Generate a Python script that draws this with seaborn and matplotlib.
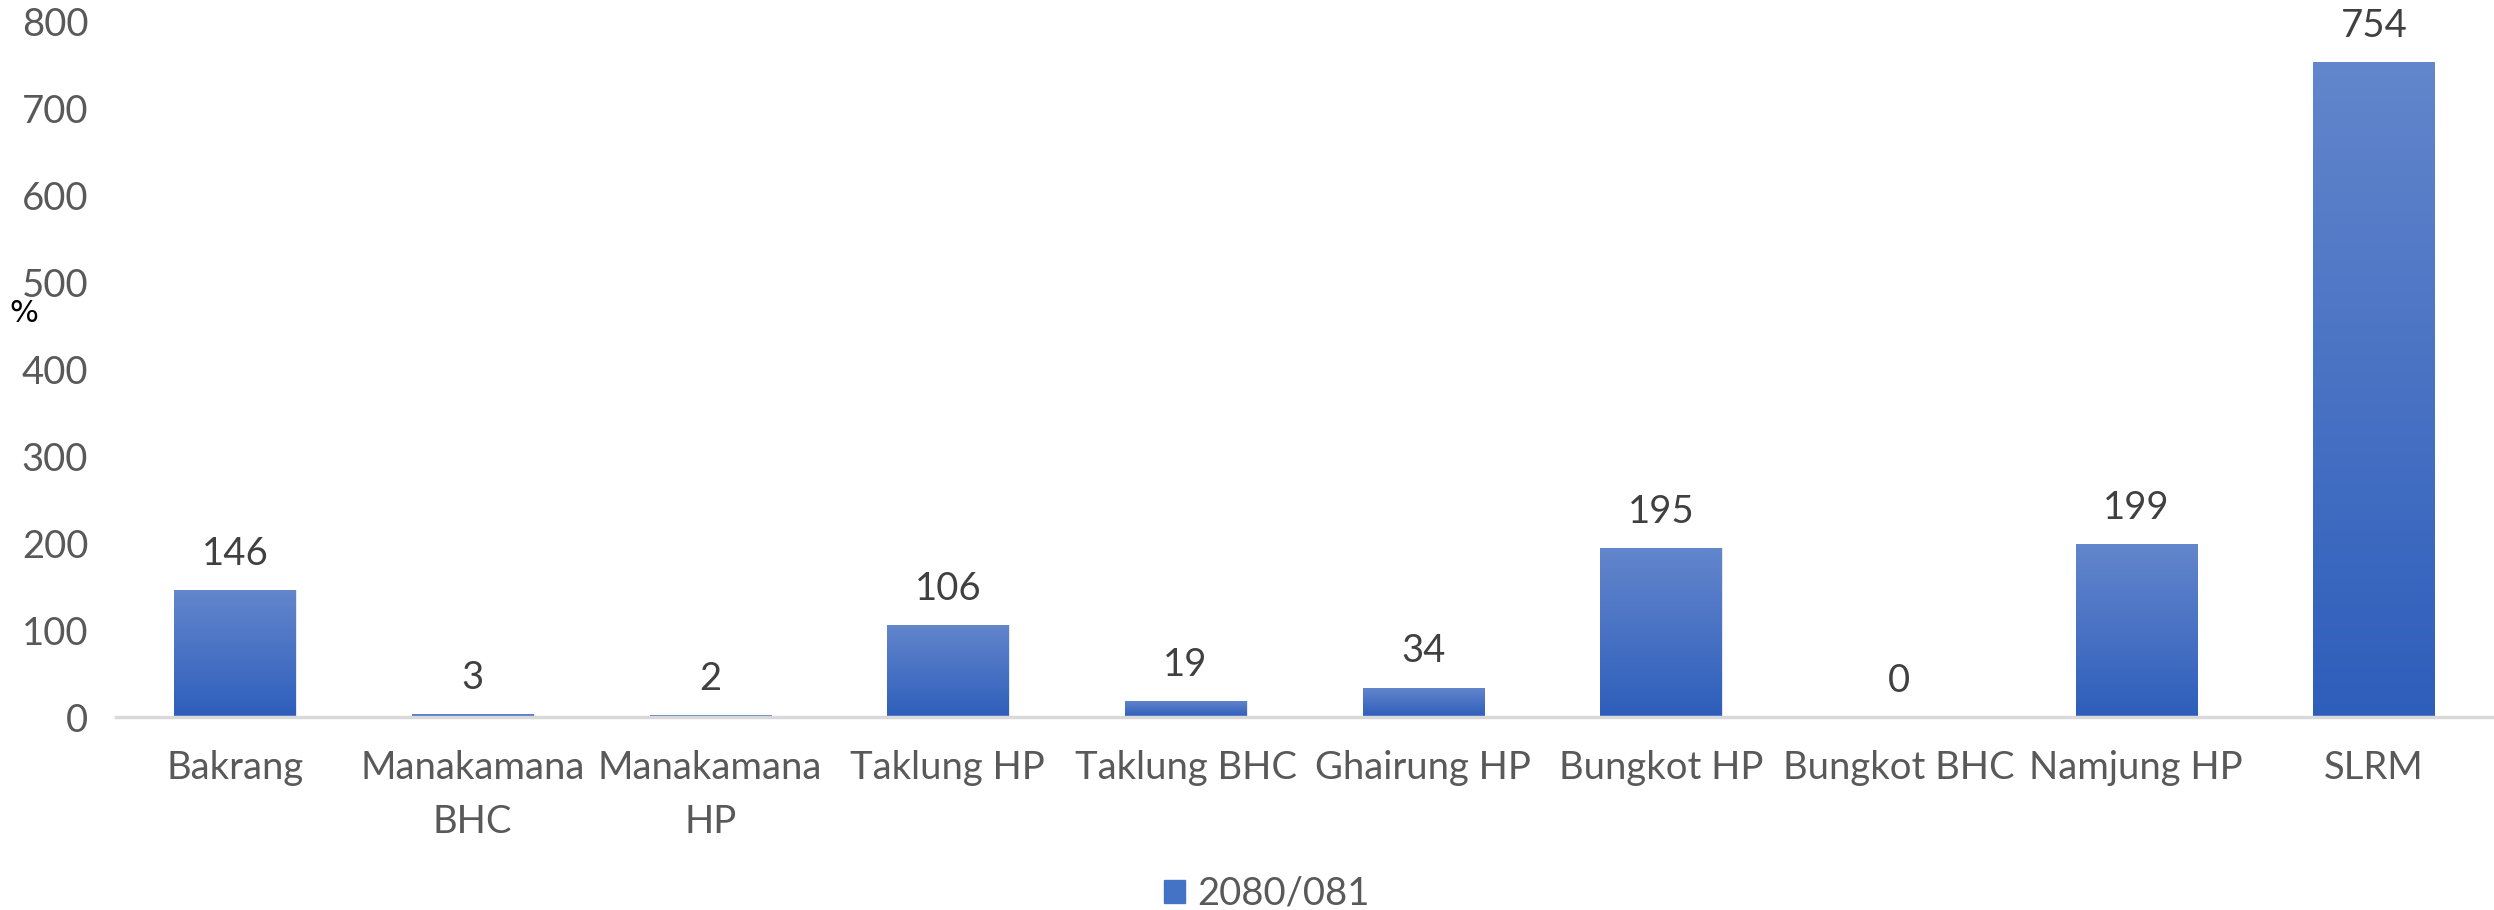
import numpy as np
import pandas as pd
import matplotlib
matplotlib.use('Agg')
import matplotlib.pyplot as plt
import seaborn as sns

# Dados
categorias = ['Bakrang', 'Manakamana\nBHC', 'Manakamana\nHP', 'Taklung HP', 'Taklung BHC',
              'Ghairung HP', 'Bungkot HP', 'Bungkot BHC', 'Namjung HP', 'SLRM']
valores = [146, 3, 2, 106, 19, 34, 195, 0, 199, 754]
serie = '2080/081'
yticks = [0, 100, 200, 300, 400, 500, 600, 700, 800]

df = pd.DataFrame({'local': categorias, 'valor': valores})

sns.set_theme(style='white')
plt.rcParams['font.family'] = ['Lato', 'DejaVu Sans']

fig = plt.figure(figsize=(24.94, 9.10), dpi=100)
ax = fig.add_axes([0.0465, 0.212, 0.953, 0.764])

sns.barplot(data=df, x='local', y='valor', color='#4472C4', width=0.51,
            ax=ax, label=serie, saturation=1)

ax.set_ylim(0, 800)
ax.set_xlim(-0.5, len(categorias) - 0.5)

# gradiente nas barras
grad = np.linspace(0, 1, 256).reshape(-1, 1)
cmap = matplotlib.colors.LinearSegmentedColormap.from_list('g', ['#2E5EBB', '#6386CC'])
for p in ax.patches:
    x0, y0 = p.get_x(), p.get_y()
    w, h = p.get_width(), p.get_height()
    if h <= 0:
        continue
    # sombra leve
    sh = plt.Rectangle((x0 + 0.006, y0), w, h, color='#000000', alpha=0.12,
                       zorder=p.get_zorder() - 0.1, lw=0)
    ax.add_patch(sh)
    im = ax.imshow(grad, extent=[x0, x0 + w, y0, y0 + h], aspect='auto',
                   origin='lower', cmap=cmap, zorder=p.get_zorder() + 0.1)
    im.set_clip_path(p)

for i, v in enumerate(valores):
    ax.annotate(str(v), (i, v), xytext=(0, 13), textcoords='offset points',
                ha='center', va='bottom', fontsize=27.5, color='#404040')

ax.set_yticks(yticks)
ax.set_yticklabels([str(t) for t in yticks])
ax.tick_params(axis='y', labelsize=27.5, labelcolor='#595959', length=0, pad=20)
ax.tick_params(axis='x', labelsize=27.5, labelcolor='#595959', length=0, pad=24)
for t in ax.get_xticklabels():
    t.set_linespacing(1.6)

ax.set_xlabel('')
ax.set_ylabel('')
for s in ['top', 'right', 'left']:
    ax.spines[s].set_visible(False)
ax.spines['bottom'].set_color('#D9D9D9')
ax.spines['bottom'].set_linewidth(2.5)
ax.grid(False)
if ax.get_legend():
    ax.get_legend().remove()

fig.text(0.0095, 0.655, '%', fontsize=22, color='black', ha='center', va='center',
         family='DejaVu Sans')

h = [matplotlib.patches.Patch(color='#4472C4')]
fig.legend(h, [serie], loc='center', bbox_to_anchor=(0.508, 0.0176), frameon=False,
           fontsize=27.5, handlelength=0.55, handleheight=0.55, handletextpad=0.3,
           labelcolor='#595959')

fig.savefig('out.png', dpi=100)
